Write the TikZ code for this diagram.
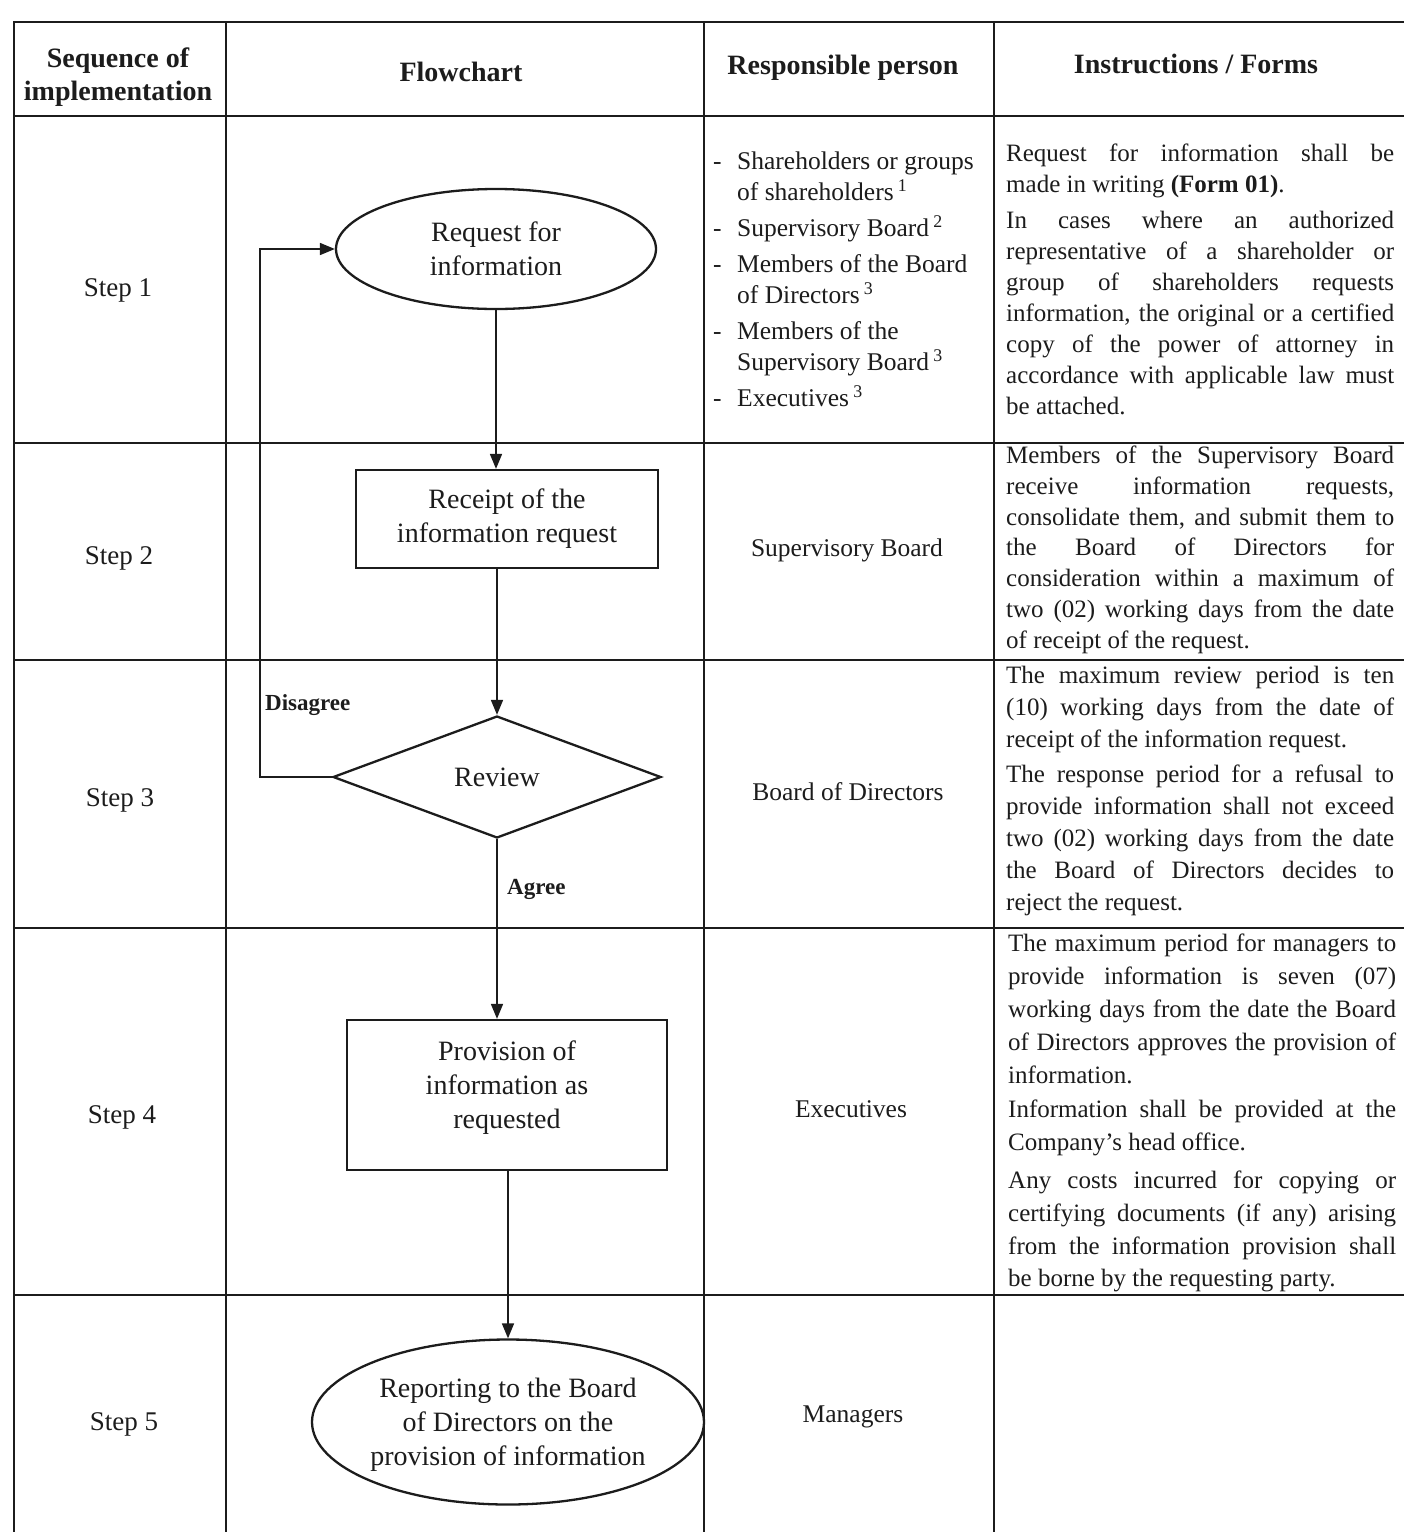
\documentclass[tikz,border=0pt]{standalone}
\usepackage{fontspec}
\setmainfont{Liberation Serif}
\usetikzlibrary{shapes.geometric,arrows.meta}
\definecolor{ink}{HTML}{1C1C1C}
\begin{document}
\begin{tikzpicture}[x=1pt,y=-1pt,
  tbl/.style={line width=1.7pt, draw=ink},
  shp/.style={draw=ink, line width=2.3pt, inner sep=0pt, align=center, text=ink, font=\fontsize{28}{34}\selectfont},
  flow/.style={draw=ink, line width=1.7pt, -{Triangle[length=15pt,width=12pt]}},
  lbl/.style={font=\bfseries\fontsize{23}{27}\selectfont, inner sep=0pt, text=ink},
  hdr/.style={font=\bfseries\fontsize{28}{33}\selectfont, align=center, inner sep=0pt, text=ink},
  stp/.style={font=\fontsize{27}{32}\selectfont, inner sep=0pt, text=ink},
  resp/.style={font=\fontsize{25.5}{31}\selectfont, inner sep=0pt, text=ink},
  instr/.style={font=\fontsize{25}{#1}\selectfont, inner sep=0pt, text width=388pt, align=justify, anchor=north west, text=ink},
]
\useasboundingbox (0,0) rectangle (1404,1532);
\fill[white] (0,0) rectangle (1404,1532);

% table grid
\draw[tbl] (1404,22) -- (14,22) -- (14,1532);
\draw[tbl] (226,22) -- (226,1532);
\draw[tbl] (704,22) -- (704,1532);
\draw[tbl] (994,22) -- (994,1532);
\foreach \yy in {116,443,660,928,1295} \draw[tbl] (14,\yy) -- (1404,\yy);

% headers
\node[hdr] (h1) at (118,77) {Sequence of\\implementation};
\node[hdr] (h2) at (461,72) {Flowchart};
\node[hdr] (h3) at (843,68) {Responsible person};
\node[hdr] (h4) at (1196,64) {Instructions / Forms};

% steps
\node[stp] (s1) at (118,290) {Step 1};
\node[stp] (s2) at (119,558) {Step 2};
\node[stp] (s3) at (120,800) {Step 3};
\node[stp] (s4) at (122,1117) {Step 4};
\node[stp] (s5) at (124,1424) {Step 5};

% flowchart
\node[shp, ellipse, minimum width=320pt, minimum height=120pt] (e1) at (496,249) {Request for\\information};
\node[shp, rectangle, minimum width=302pt, minimum height=98pt] (r2) at (507,519) {Receipt of the\\information request};
\node[shp, diamond, minimum width=328pt, minimum height=122pt] (d3) at (497,777) {Review};
\node[shp, rectangle, minimum width=320pt, minimum height=150pt, text depth=20pt] (r4) at (507,1095) {Provision of\\information as\\requested};
\node[shp, ellipse, minimum width=392pt, minimum height=165pt, text depth=0pt] (e5) at (508,1422) {Reporting to the Board\\of Directors on the\\provision of information};

\coordinate (lp) at (260,777);
\draw[flow] (e1.south) -- (e1.south |- r2.north);
\draw[flow] (d3.north |- r2.south) -- (d3.north);
\draw[flow] (d3.south) -- (d3.south |- r4.north);
\draw[flow] (e5.north |- r4.south) -- (e5.north);
\draw[flow] (d3.west) -- (lp) -- (lp |- e1.west) -- (e1.west);

\node[lbl, anchor=west] (dis) at (265,705) {Disagree};
\node[lbl, anchor=west] (agr) at (507,889) {Agree};

% responsible persons
\node[resp, anchor=north west, align=left] (p1) at (713,152) {%
\makebox[24pt][l]{-}Shareholders or groups\\
\hspace*{24pt}of shareholders\,\textsuperscript{1}\\[5pt]
\makebox[24pt][l]{-}Supervisory Board\,\textsuperscript{2}\\[5pt]
\makebox[24pt][l]{-}Members of the Board\\
\hspace*{24pt}of Directors\,\textsuperscript{3}\\[5pt]
\makebox[24pt][l]{-}Members of the\\
\hspace*{24pt}Supervisory Board\,\textsuperscript{3}\\[5pt]
\makebox[24pt][l]{-}Executives\,\textsuperscript{3}};
\node[resp] (p2) at (847,550) {Supervisory Board};
\node[resp] (p3) at (848,792) {Board of Directors};
\node[resp] (p4) at (851,1109) {Executives};
\node[resp] (p5) at (853,1417) {Managers};

% instructions
\node[instr=31] (i1) at (1006,144) {Request for information shall be\linebreak made in writing \textbf{(Form 01)}.\par\vspace{5pt}
In cases where an authorized\linebreak representative of a shareholder or\linebreak group of shareholders requests\linebreak information, the original or a certified\linebreak copy of the power of attorney in\linebreak accordance with applicable law must\linebreak be attached.};

\node[instr=30.7] (i2) at (1006,446) {Members of the Supervisory Board\linebreak receive information requests,\linebreak consolidate them, and submit them to\linebreak the Board of Directors for\linebreak consideration within a maximum of\linebreak two (02) working days from the date\linebreak of receipt of the request.};

\node[instr=32] (i3) at (1006,666) {The maximum review period is ten\linebreak (10) working days from the date of\linebreak receipt of the information request.\par\vspace{3pt}
The response period for a refusal to\linebreak provide information shall not exceed\linebreak two (02) working days from the date\linebreak the Board of Directors decides to\linebreak reject the request.};

\node[instr=32.8] (i4) at (1008,934) {The maximum period for managers to\linebreak provide information is seven (07)\linebreak working days from the date the Board\linebreak of Directors approves the provision of\linebreak information.\par\vspace{2pt}
Information shall be provided at the\linebreak Company’s head office.\par\vspace{5pt}
Any costs incurred for copying or\linebreak certifying documents (if any) arising\linebreak from the information provision shall\linebreak be borne by the requesting party.};
\end{tikzpicture}
\end{document}
